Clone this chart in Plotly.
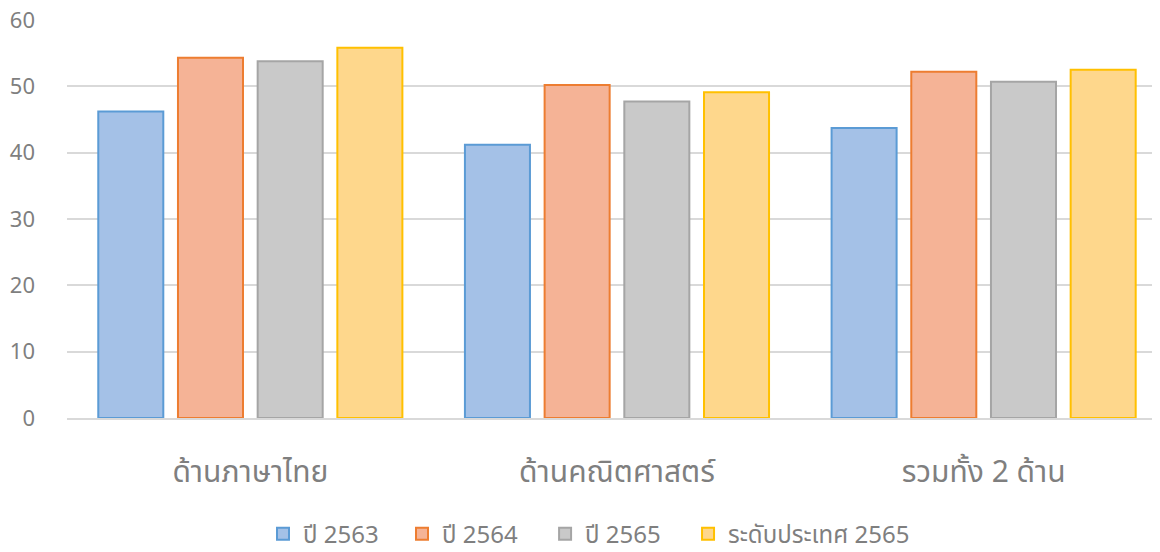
import plotly.graph_objects as go

categories = ["ด้านภาษาไทย", "ด้านคณิตศาสตร์", "รวมทั้ง 2 ด้าน"]
series_names = ["ปี 2563", "ปี 2564", "ปี 2565", "ระดับประเทศ 2565"]
v2563 = [46.2, 41.2, 43.7]
v2564 = [54.3, 50.2, 52.2]
v2565 = [53.8, 47.7, 50.7]
vnation = [55.8, 49.1, 52.5]
y_ticks = [0, 10, 20, 30, 40, 50, 60]

fills = ["#A4C1E7", "#F5B396", "#C9C9C9", "#FED78C"]
borders = ["#5B9BD5", "#ED7D31", "#A5A5A5", "#FFC000"]
legend_ids = ["legend", "legend2", "legend3", "legend4"]
legend_x = [0.1793, 0.3065, 0.4374, 0.5682]

font_family = "Noto Sans Thai, Loma, Garuda, Noto Sans, DejaVu Sans, sans-serif"

fig = go.Figure()
for name, vals, fc, bc, lg in zip(series_names, [v2563, v2564, v2565, vnation], fills, borders, legend_ids):
    fig.add_trace(go.Bar(
        x=categories, y=vals, name=name, legend=lg,
        marker=dict(color=fc, line=dict(color=bc, width=2)),
    ))

legend_common = dict(orientation="h", yanchor="middle", y=-0.292, xanchor="left",
                     font=dict(size=24, color="#7F7F7F"), itemwidth=30,
                     itemsizing="constant", bgcolor="rgba(0,0,0,0)")

fig.update_layout(
    width=1152, height=544,
    margin=dict(l=59, r=0, t=12, b=134, autoexpand=False),
    paper_bgcolor="white", plot_bgcolor="white",
    barmode="group", bargap=0.1306, bargroupgap=0.184,
    font=dict(family=font_family, color="#7F7F7F"),
    showlegend=True,
    xaxis=dict(range=[-0.5, 2.481], showgrid=False, showline=True, linecolor="#D9D9D9",
               linewidth=2, ticks="", tickfont=dict(size=30, color="#7F7F7F"),
               ticklabelstandoff=26),
    yaxis=dict(range=[0, 60], tickvals=y_ticks, showgrid=True, gridcolor="#D9D9D9",
               gridwidth=2, zeroline=False, showline=False, ticklabeloverflow="allow",
               tickfont=dict(size=22, color="#7F7F7F"), ticklabelstandoff=31),
)
for lg, lx in zip(legend_ids, legend_x):
    fig.update_layout({lg: dict(legend_common, x=lx)})

fig.write_html("out.html")
